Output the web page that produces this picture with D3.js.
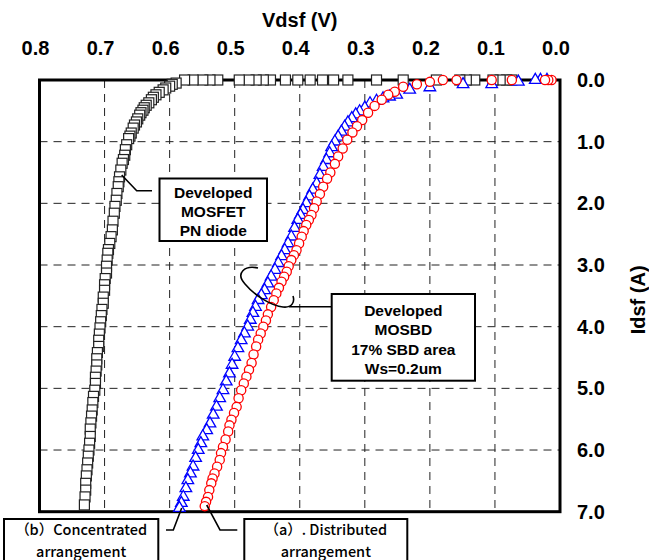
<!DOCTYPE html>
<html>
<head>
<meta charset="utf-8">
<script src="https://cdn.jsdelivr.net/npm/d3@7"></script>
<style>
body { margin: 0; background: #fff; }
svg { display: block; }
</style>
</head>
<body>
<svg width="649" height="560"></svg>
<script>
// tick values
var vTicks = [0.8, 0.7, 0.6, 0.5, 0.4, 0.3, 0.2, 0.1, 0.0];
var iTicks = [0, 1, 2, 3, 4, 5, 6, 7];

// Developed MOSFET PN diode (squares)
var pnV = [0.074, 0.082, 0.092, 0.103, 0.131, 0.144, 0.154, 0.19, 0.241, 0.282, 0.326, 0.348, 0.365, 0.384, 0.403, 0.422, 0.445, 0.456, 0.467, 0.478, 0.493, 0.526, 0.538, 0.549, 0.564, 0.577,
  0.59, 0.596, 0.60, 0.606, 0.61, 0.616, 0.621, 0.625, 0.628, 0.632, 0.636, 0.639, 0.641, 0.644, 0.646, 0.649, 0.651, 0.654, 0.656, 0.659, 0.661, 0.663, 0.666, 0.668, 0.669, 0.671, 0.673, 0.675, 0.677, 0.678, 0.679, 0.681, 0.682, 0.684, 0.685, 0.687, 0.688, 0.690, 0.692, 0.694,
  0.695, 0.696, 0.697, 0.697, 0.699, 0.700, 0.700, 0.702, 0.702, 0.704, 0.705, 0.706, 0.707, 0.708, 0.709, 0.709, 0.711, 0.712, 0.712, 0.713, 0.714, 0.714, 0.715, 0.717, 0.718, 0.719, 0.720, 0.721, 0.722, 0.722, 0.723, 0.724, 0.725, 0.726, 0.727, 0.728, 0.729, 0.729, 0.730, 0.731];
var pnI = [0, 0, 0, 0, 0, 0, 0, 0, 0, 0, 0, 0, 0, 0, 0, 0, 0, 0, 0, 0, 0, 0, 0, 0, 0, 0,
  0.05, 0.07, 0.10, 0.13, 0.16, 0.20, 0.24, 0.28, 0.32, 0.37, 0.41, 0.45, 0.49, 0.53, 0.57, 0.63, 0.68, 0.73, 0.78, 0.86, 0.91, 0.95, 1.05, 1.13, 1.22, 1.29, 1.35, 1.46, 1.57, 1.65, 1.73, 1.84, 1.95, 2.05, 2.16, 2.29, 2.43, 2.54, 2.65, 2.75,
  2.81, 2.92, 3.02, 3.13, 3.22, 3.32, 3.41, 3.52, 3.62, 3.72, 3.82, 3.92, 4.02, 4.12, 4.22, 4.32, 4.42, 4.52, 4.62, 4.72, 4.82, 4.92, 5.03, 5.13, 5.23, 5.35, 5.45, 5.56, 5.66, 5.78, 5.89, 6.00, 6.10, 6.21, 6.32, 6.42, 6.54, 6.65, 6.76, 6.89];

// (b) Concentrated arrangement (triangles)
var concV = [0.02, 0.03, 0.038, 0.064, 0.105, 0.149, 0.2, 0.231, 0.251, 0.262, 0.272, 0.282, 0.292, 0.300, 0.308, 0.314, 0.32, 0.326, 0.331, 0.336, 0.341, 0.346, 0.351, 0.354, 0.359, 0.364, 0.369, 0.374, 0.380, 0.385, 0.390, 0.395, 0.399, 0.403, 0.408, 0.413, 0.418, 0.423, 0.428, 0.433, 0.438, 0.444, 0.449, 0.454, 0.459, 0.464, 0.468, 0.472, 0.476, 0.48, 0.485, 0.49, 0.495, 0.5, 0.504, 0.508, 0.513, 0.518, 0.523, 0.528, 0.533, 0.538, 0.543, 0.549, 0.552, 0.556, 0.560, 0.564, 0.568, 0.572, 0.575, 0.579, 0.582, 0.585];
var concI = [0, 0, 0, 0.03, 0.07, 0.07, 0.12, 0.16, 0.24, 0.27, 0.30, 0.34, 0.38, 0.45, 0.51, 0.56, 0.62, 0.69, 0.76, 0.84, 0.92, 1.0, 1.09, 1.19, 1.30, 1.41, 1.54, 1.68, 1.78, 1.89, 2.0, 2.11, 2.19, 2.27, 2.40, 2.54, 2.65, 2.76, 2.86, 2.97, 3.08, 3.19, 3.30, 3.41, 3.49, 3.57, 3.68, 3.78, 3.89, 4.0, 4.11, 4.22, 4.35, 4.49, 4.62, 4.76, 4.89, 5.03, 5.16, 5.30, 5.43, 5.57, 5.68, 5.78, 5.89, 6.0, 6.13, 6.27, 6.38, 6.49, 6.62, 6.76, 6.86, 6.94];

// (a) Distributed arrangement (circles)
var distV = [0.013, 0.018, 0.023, 0.074, 0.105, 0.159, 0.18, 0.2, 0.22, 0.241, 0.254, 0.264, 0.274, 0.285, 0.295, 0.304, 0.312, 0.319, 0.327, 0.334, 0.341, 0.346, 0.353, 0.358, 0.364, 0.369, 0.374, 0.378, 0.382, 0.386, 0.39, 0.394, 0.397, 0.401, 0.405, 0.409, 0.413, 0.417, 0.42, 0.424, 0.428, 0.432, 0.436, 0.44, 0.444, 0.449, 0.452, 0.456, 0.460, 0.464, 0.467, 0.471, 0.474, 0.478, 0.482, 0.486, 0.49, 0.494, 0.497, 0.501, 0.505, 0.508, 0.51, 0.514, 0.518, 0.521, 0.523, 0.527, 0.531, 0.534, 0.536, 0.539, 0.541, 0.544, 0.546];
var distI = [0, 0, 0, 0, 0, 0, 0, 0.03, 0.07, 0.11, 0.19, 0.24, 0.32, 0.42, 0.53, 0.65, 0.75, 0.85, 0.97, 1.11, 1.24, 1.36, 1.5, 1.6, 1.73, 1.85, 1.97, 2.08, 2.19, 2.27, 2.35, 2.45, 2.54, 2.65, 2.76, 2.84, 2.92, 3.02, 3.11, 3.19, 3.27, 3.37, 3.46, 3.57, 3.68, 3.80, 3.9, 4.0, 4.11, 4.21, 4.32, 4.45, 4.59, 4.70, 4.81, 4.92, 5.03, 5.16, 5.30, 5.40, 5.51, 5.60, 5.70, 5.83, 5.95, 6.05, 6.16, 6.27, 6.38, 6.46, 6.54, 6.65, 6.76, 6.84, 6.91];

// annotation texts
var pnLabel = ["Developed", "MOSFET", "PN diode"];
var sbdLabel = ["Developed", "MOSBD", "17% SBD area", "Ws=0.2um"];
var concLabel = ["（b）Concentrated", "arrangement"];
var distLabel = ["（a）. Distributed", "arrangement"];

var svg = d3.select("svg");
var boldFont = "'Liberation Sans', Arial, sans-serif";

var x = d3.scaleLinear().domain([0.8, 0]).range([39.5, 560]);
var y = d3.scaleLinear().domain([0, 7]).range([80, 511.7]);

// grid
svg.append("g").selectAll("line").
data(vTicks.filter(function (d) {return d > 0.05 && d < 0.75;})).
enter().append("line").
attr("x1", function (d) {return x(d);}).
attr("x2", function (d) {return x(d);}).
attr("y1", y(0)).attr("y2", y(7)).
attr("stroke", "#222").attr("stroke-width", 1).
attr("stroke-dasharray", "8,6");

svg.append("g").selectAll("line").
data(iTicks.filter(function (d) {return d > 0 && d < 7;})).
enter().append("line").
attr("x1", x(0.8)).attr("x2", x(0)).
attr("y1", function (d) {return y(d);}).
attr("y2", function (d) {return y(d);}).
attr("stroke", "#222").attr("stroke-width", 1).
attr("stroke-dasharray", "8,6");

// frame
svg.append("rect").
attr("x", x(0.8)).attr("y", y(0)).
attr("width", x(0) - x(0.8)).attr("height", y(7) - y(0)).
attr("fill", "none").attr("stroke", "#000").attr("stroke-width", 3);

// axes
var xAxis = svg.append("g").
attr("transform", "translate(0," + y(0) + ")").
call(d3.axisTop(x).tickValues(vTicks).tickSize(0).tickPadding(25).tickFormat(d3.format(".1f")));
xAxis.select(".domain").remove();
xAxis.selectAll("text").
attr("dx", -4.5).
style("font", "bold 20px " + boldFont).attr("fill", "#000");

var yAxis = svg.append("g").
attr("transform", "translate(" + x(0) + ",0)").
call(d3.axisRight(y).tickValues(iTicks).tickSize(0).tickPadding(17).tickFormat(d3.format(".1f")));
yAxis.select(".domain").remove();
yAxis.selectAll("text").
style("font", "bold 20px " + boldFont).attr("fill", "#000");

svg.append("text").
attr("x", (x(0.8) + x(0)) / 2).attr("y", 27).
attr("text-anchor", "middle").
style("font", "bold 20px " + boldFont).
text("Vdsf (V)");

svg.append("text").
attr("transform", "translate(645," + ((y(0) + y(7)) / 2 + 4) + ") rotate(-90)").
attr("text-anchor", "middle").
style("font", "bold 20px " + boldFont).
text("Idsf (A)");

// series
var pnData = pnV.map(function (v, i) {return [v, pnI[i]];});
var concData = concV.map(function (v, i) {return [v, concI[i]];});
var distData = distV.map(function (v, i) {return [v, distI[i]];});

svg.append("g").selectAll("rect").
data(pnData).
enter().append("rect").
attr("x", function (d) {return x(d[0]) - 5;}).
attr("y", function (d) {return y(d[1]) - 5;}).
attr("width", 10).attr("height", 10).
attr("fill", "#fff").attr("stroke", "#222").attr("stroke-width", 1.2);

var tri = d3.symbol().type(d3.symbolTriangle).size(58);
svg.append("g").selectAll("path").
data(concData).
enter().append("path").
attr("d", tri).
attr("transform", function (d) {return "translate(" + x(d[0]) + "," + y(d[1]) + ")";}).
attr("fill", "#fff").attr("stroke", "#0000ff").attr("stroke-width", 1.3);

svg.append("g").selectAll("circle").
data(distData).
enter().append("circle").
attr("cx", function (d) {return x(d[0]);}).
attr("cy", function (d) {return y(d[1]);}).
attr("r", 4.6).
attr("fill", "#fff").attr("stroke", "#ff0000").attr("stroke-width", 1.3);

// annotations
var line = function (pts) {
  svg.append("path").
  attr("d", d3.line()(pts)).
  attr("fill", "none").attr("stroke", "#000").attr("stroke-width", 1.6);
};

var box = function (x0, y0, w, h, lines, y1, dy, font) {
  svg.append("rect").
  attr("x", x0).attr("y", y0).attr("width", w).attr("height", h).
  attr("fill", "#fff").attr("stroke", "#000").attr("stroke-width", 2);
  svg.append("g").selectAll("text").
  data(lines).
  enter().append("text").
  attr("x", x0 + w / 2).
  attr("y", function (d, i) {return y1 + i * dy;}).
  attr("text-anchor", "middle").
  style("font", font).
  text(function (d) {return d;});
};

line([[121.7, 175], [136.7, 190.7], [152, 190.7]]);
box(159.5, 178.5, 107.5, 62.5, pnLabel, 197.5, 19.3, "bold 15.5px " + boldFont);

svg.append("path").
attr("d", "M258,268 C245,265 235,273 245,284 C255,296 272,306 283,307 C292,308 295,302 293,296").
attr("fill", "none").attr("stroke", "#000").attr("stroke-width", 1.6);
line([[289, 306.7], [331.7, 306.7]]);
box(331.7, 294, 143.3, 86.7, sbdLabel, 316, 19.4, "bold 15.5px " + boldFont);

var jpFont = "500 14.5px 'Noto Sans CJK JP', sans-serif";
line([[166, 530], [173.3, 530], [181.7, 508]]);
box(4, 519, 154.3, 50, concLabel, 535, 21.5, jpFont);

line([[237.3, 530], [220, 530], [206.7, 505]]);
box(244.3, 519, 163, 50, distLabel, 535, 21.5, jpFont);
</script>
</body>
</html>
